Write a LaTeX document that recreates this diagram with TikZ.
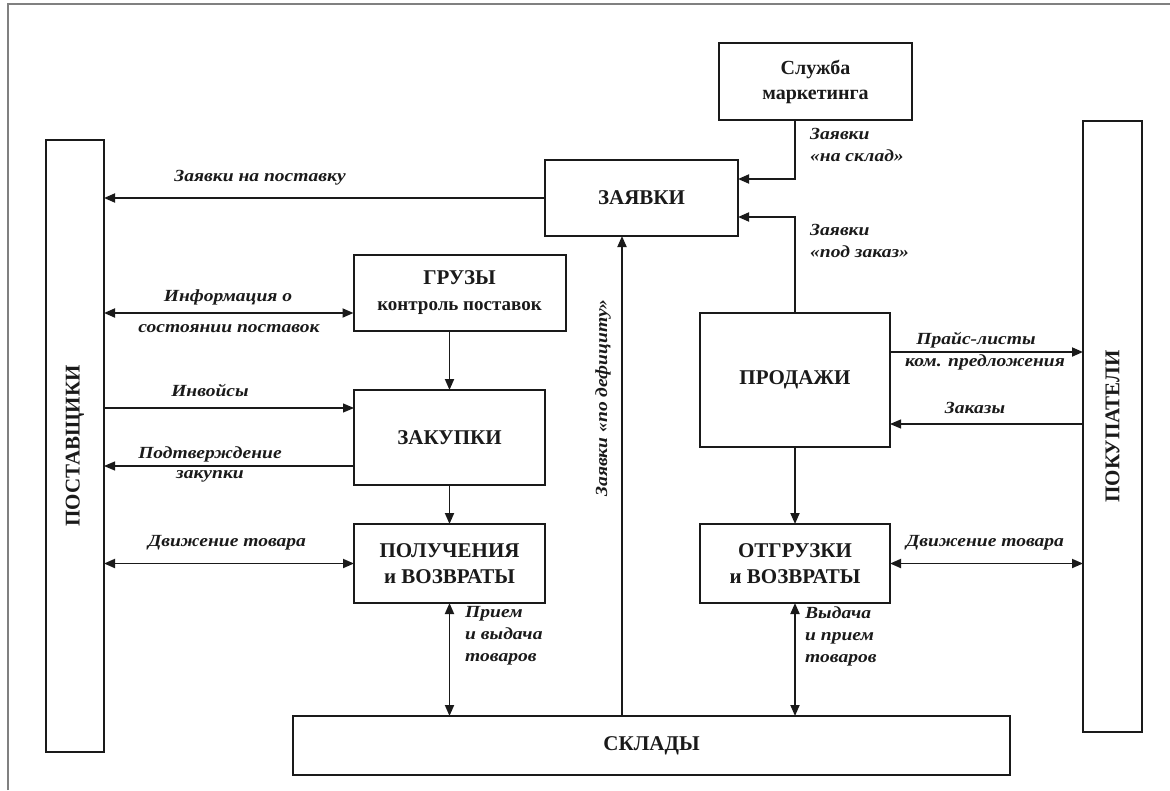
\documentclass[tikz,border=0pt]{standalone}
\usepackage{fontspec}
\setmainfont{Liberation Serif}
\newfontfamily\lblfont{Liberation Serif}[FakeStretch=1.15]
\usetikzlibrary{arrows.meta,calc}
\definecolor{ink}{HTML}{1A1A1A}
\definecolor{frame}{HTML}{808080}
\tikzset{
  box/.style={draw=ink, line width=2pt, inner sep=0pt, outer sep=0pt, align=center,
    font=\bfseries\fontsize{21}{26}\selectfont, text=ink},
  lbl/.style={font=\lblfont\bfseries\itshape\fontsize{17}{22}\selectfont, inner sep=0pt, align=center, text=ink},
  lbll/.style={lbl, align=left, anchor=north west},
  tip/.tip={Triangle[length=11pt,width=9pt]},
  arr/.style={draw=ink, line width=1.8pt, -tip},
  darr/.style={draw=ink, line width=1.8pt, tip-tip},
  thin/.style={line width=1.1pt},
}
\begin{document}
\begin{tikzpicture}[x=1pt,y=-1pt]
\useasboundingbox (0,0) rectangle (1170,790);
% frame
\draw[frame, line width=2pt] (8,790) -- (8,4) -- (1170,4);
% boxes
\node[box, minimum width=193, minimum height=77, font=\bfseries\fontsize{20}{25}\selectfont] (mkt) at (815.5,81.5) {Служба\\маркетинга};
\node[box, minimum width=193, minimum height=76] (zay) at (641.5,198) {ЗАЯВКИ};
\node[box, minimum width=58, minimum height=612] (post) at (75,446) {};
\node[rotate=90, font=\bfseries\fontsize{21}{24}\selectfont, text=ink] at (post.center) {ПОСТАВЩИКИ};
\node[box, minimum width=59, minimum height=611] (pok) at (1112.5,426.5) {};
\node[rotate=90, font=\bfseries\fontsize{21}{24}\selectfont, text=ink] at (pok.center) {ПОКУПАТЕЛИ};
\node[box, minimum width=212, minimum height=76] (gruz) at (459.5,293) {\fontsize{21}{23}\selectfont ГРУЗЫ\\\fontsize{19}{23}\selectfont контроль поставок};
\node[box, minimum width=191, minimum height=95] (zak) at (449.5,437.5) {ЗАКУПКИ};
\node[box, minimum width=191, minimum height=79] (pol) at (449.5,563.5) {ПОЛУЧЕНИЯ\\и ВОЗВРАТЫ};
\node[box, minimum width=190, minimum height=134] (prod) at (795,380) {ПРОДАЖИ};
\node[box, minimum width=190, minimum height=79] (otg) at (795,563.5) {ОТГРУЗКИ\\и ВОЗВРАТЫ};
\node[box, minimum width=717, minimum height=59] (skl) at (651.5,745.5) {СКЛАДЫ};
% level coordinates
\coordinate (yInfo) at (0,313);
\coordinate (yInv) at (0,408);
\coordinate (yPod) at (0,466);
\coordinate (yPrice) at (0,352);
\coordinate (yOrd) at (0,424);
\coordinate (xDef) at (622,0);
\coordinate (xMkt) at (795,0);
\coordinate (yMkt) at (0,179);
\coordinate (yPz) at (0,217);
% connectors
\draw[arr] (mkt.south -| xMkt) |- (zay.east |- yMkt);
\draw[arr] (prod.north) |- (zay.east |- yPz);
\draw[arr] (skl.north -| xDef) -- (zay.south -| xDef);
\draw[arr] (zay.west) -- (zay.west -| post.east);
\draw[darr] (post.east |- yInfo) -- (gruz.west |- yInfo);
\draw[arr, thin] (post.east |- yInv) -- (zak.west |- yInv);
\draw[arr, thin] (zak.west |- yPod) -- (post.east |- yPod);
\draw[darr] (post.east |- pol.west) -- (pol.west);
\draw[arr] (gruz.south -| zak.north) -- (zak.north);
\draw[arr] (zak.south) -- (pol.north);
\draw[darr] (pol.south) -- (skl.north -| pol.south);
\draw[arr] (prod.south) -- (otg.north);
\draw[darr] (otg.south) -- (skl.north -| otg.south);
\draw[arr] (prod.east |- yPrice) -- (pok.west |- yPrice);
\draw[arr, thin] (pok.west |- yOrd) -- (prod.east |- yOrd);
\draw[darr] (otg.east) -- (pok.west |- otg.east);
% labels
\node[lbl] at (260,178) {Заявки на поставку};
\node[lbl] at (228,297) {Информация о};
\node[lbl] at (229,329) {состоянии поставок};
\node[lbl] at (210,390) {Инвойсы};
\node[lbl] at (210,454) {Подтверждение};
\node[lbl] at (210,476) {закупки};
\node[lbl] at (227,543) {Движение товара};
\node[lbll] at (810,128) {Заявки\\«на склад»};
\node[lbll] at (810,224) {Заявки\\«под заказ»};
\node[lbl] at (976,340) {Прайс-листы};
\node[lbl] at (985,362) {ком. предложения};
\node[lbl] at (975,408) {Заказы};
\node[lbl] at (985,543) {Движение товара};
\node[lbll] at (465,606) {Прием\\и выдача\\товаров};
\node[lbll] at (805,606) {Выдача\\и прием\\товаров};
\node[lbl, rotate=90] at (603,398) {Заявки «по дефициту»};
\end{tikzpicture}
\end{document}
